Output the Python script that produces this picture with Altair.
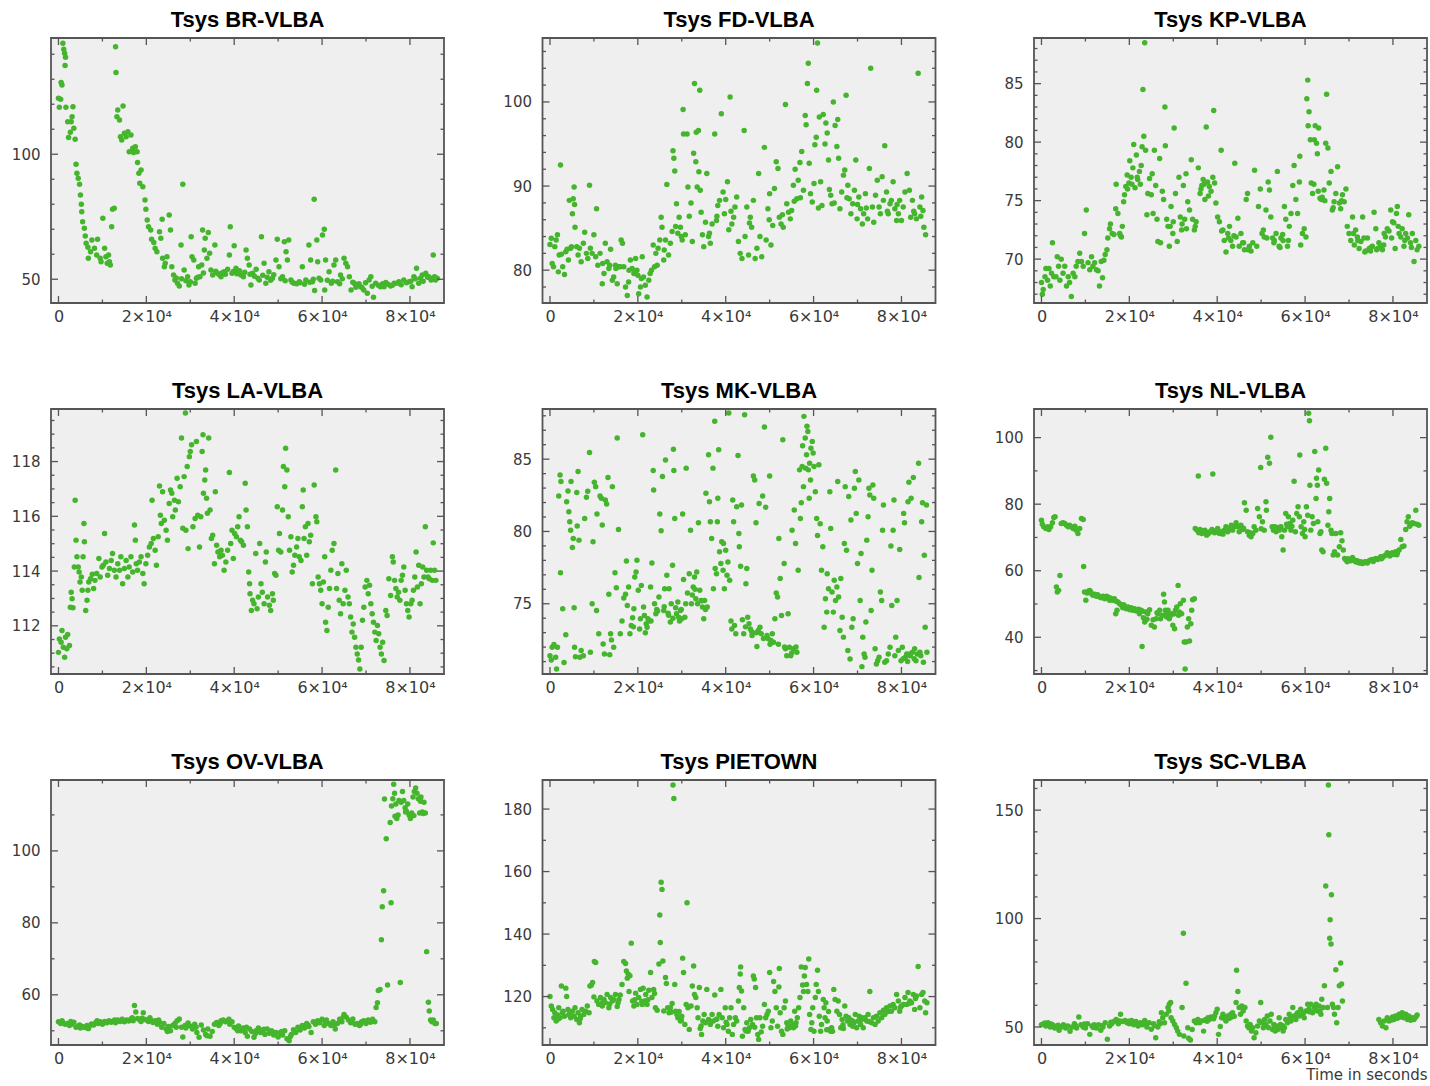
import altair as alt
import pandas as pd

# Tsys per antenna: (time in kiloseconds, system temperature in K)
BR = [
    (0.0,122.4),(0.2,118.8),(0.5,122.0),(0.6,128.7),(0.8,127.7),(1.0,144.4),(1.2,142.0),(1.4,140.4),(1.6,138.8),(1.5,135.5),
    (1.7,118.8),(2.1,113.0),(2.3,106.7),(2.7,108.8),(2.9,113.0),(3.1,115.0),(3.3,119.0),(3.5,110.4),(3.8,106.0),(4.0,96.0),
    (4.2,92.4),(4.5,90.4),(4.8,88.0),(5.0,83.7),(5.2,80.0),(5.3,77.0),(5.5,73.0),(5.9,70.4),(6.1,67.3),(6.3,64.4),
    (6.7,62.8),(6.8,58.4),(7.3,61.0),(7.6,65.7),(8.2,62.4),(8.7,59.7),(8.9,66.0),(9.5,58.4),(9.7,57.0),(10.1,74.4),
    (10.5,62.4),(10.8,59.0),(11.1,56.4),(11.4,59.7),(11.6,57.0),(11.8,55.7),(12.1,71.0),(12.3,78.0),(12.7,78.4),(13.0,143.0),
    (13.1,132.7),(13.5,117.7),(13.3,115.0),(13.9,113.7),(14.1,107.0),(14.4,105.7),(14.7,119.3),(15.0,108.4),(15.4,107.0),(15.8,109.0),
    (16.1,101.0),(16.5,107.7),(16.9,102.4),(17.1,100.7),(17.5,103.0),(17.9,101.0),(18.0,96.7),(18.3,92.4),(18.5,88.4),(18.8,93.7),
    (19.2,87.0),(19.7,81.7),(19.9,78.0),(20.2,73.7),(20.5,71.0),(21.0,69.7),(21.2,66.0),(21.7,64.7),(22.0,62.4),(22.4,61.0),
    (23.0,69.0),(23.3,66.4),(23.6,74.0),(23.7,58.4),(24.1,55.0),(24.3,56.4),(24.7,59.0),(25.2,75.7),(25.5,69.7),(25.8,55.0),
    (26.2,51.7),(26.5,49.7),(27.1,48.4),(27.5,47.3),(27.9,63.7),(28.3,88.0),(28.6,53.7),(29.0,49.4),(29.4,51.0),(29.7,47.7),
    (30.2,67.0),(30.4,59.0),(30.8,57.7),(31.1,48.4),(31.4,50.4),(31.9,55.0),(32.2,51.0),(32.6,55.7),(32.8,69.7),(33.2,61.7),
    (33.4,66.4),(33.8,58.4),(34.1,68.7),(34.4,60.4),(34.7,53.7),(35.1,51.7),(35.6,63.7),(36.2,52.4),(37.0,51.0),(37.7,53.0),
    (38.5,54.0),(38.9,59.7),(39.1,71.0),(39.5,52.4),(40.0,63.4),(40.4,54.4),(40.9,53.0),(41.5,51.7),(42.1,51.0),(42.7,61.7),
    (43.0,58.4),(43.4,55.7),(43.8,47.7),(44.2,52.4),(45.0,54.0),(45.7,49.7),(46.2,67.0),(46.8,56.4),(47.2,48.4),(47.9,53.0),
    (48.7,50.4),(49.5,57.7),(49.8,66.0),(50.2,55.0),(51.0,51.0),(51.4,65.0),(51.8,61.0),(52.1,57.7),(52.4,65.7),(52.9,49.7),
    (53.6,48.4),(54.8,49.0),(55.5,55.0),(56.3,49.7),(57.0,63.7),(57.4,57.7),(57.8,49.0),(58.2,82.0),(58.3,45.5),(58.8,65.7),
    (59.0,57.0),(59.3,50.4),(59.7,49.7),(60.1,67.7),(60.5,70.0),(60.8,57.7),(60.6,45.7),(61.6,53.0),(62.1,48.4),(62.7,55.7),
    (63.1,57.7),(63.5,49.0),(64.2,51.7),(65.0,58.4),(65.4,56.4),(65.8,55.0),(66.2,51.0),(66.6,45.7),(67.3,48.4),(68.0,47.7),
    (68.8,47.0),(69.5,45.7),(70.3,44.4),(70.7,49.7),(71.1,51.0),(71.7,42.8),(72.2,48.4),(73.3,47.0),(74.5,48.7),(75.6,47.3),
    (76.4,48.4),(77.5,49.0),(78.6,49.7),(79.8,49.0),(80.5,47.0),(80.9,51.0),(81.5,54.4),(82.0,48.4),(82.8,51.7),(83.6,52.4),
    (84.3,51.0),(84.8,49.7),(85.3,59.7),(85.8,49.7),(86.2,50.4),
    (26.8,50.5),(28.0,50.2),(30.0,49.0),(31.7,50.8),(33.0,52.5),(35.8,53.2),(36.6,51.8),(37.3,52.6),(38.0,52.0),(39.8,53.1),
    (40.6,52.2),(41.2,53.4),(42.4,52.8),(43.6,52.0),(44.6,51.2),(45.4,50.4),(46.5,51.6),(47.5,50.8),(48.3,49.6),(49.0,51.8),
    (50.6,50.2),(51.6,49.4),(53.2,48.8),(54.2,48.2),(55.0,48.6),(56.0,48.0),(57.2,48.8),(58.0,50.0),(61.2,49.6),(62.4,49.2),
    (64.0,48.2),(64.6,50.2),(67.0,48.8),(67.7,46.8),(68.4,48.2),(69.1,46.6),(69.9,48.6),(71.4,47.2),(72.8,47.6),(73.8,48.2),
    (74.1,47.0),(75.0,48.0),(76.0,47.6),(77.0,48.4),(78.0,47.8),(79.2,48.6),(80.2,49.2),(81.2,50.2),(82.4,50.4),(83.0,49.2),
    (84.0,50.8),(85.0,50.2),(85.6,51.0),
]

FD = [
    (0.0,83.05),(0.3,83.8),(0.5,80.8),(0.8,80.4),(1.1,82.8),(1.4,83.6),(1.7,84.2),(1.9,79.8),(2.1,81.8),(2.4,92.5),
    (2.6,81.9),(2.9,80.4),(3.3,79.5),(3.6,82.2),(3.9,82.5),(4.2,81.2),(4.4,88.3),(4.7,82.6),(4.9,82.8),(5.1,86.7),
    (5.3,88.5),(5.5,89.9),(5.6,87.8),(5.7,85.1),(6.1,82.8),(6.4,81.8),(6.7,82.6),(7.1,81.0),(7.6,83.2),(7.9,84.5),
    (8.3,82.0),(8.6,81.4),(9.0,90.1),(9.2,82.6),(9.6,82.0),(10.0,84.2),(10.4,81.6),(10.6,87.3),(10.9,80.6),(11.4,82.0),
    (11.9,78.4),(12.3,79.6),(12.6,83.2),(13.0,81.0),(13.4,80.2),(13.8,82.5),(14.2,78.8),(14.5,79.2),(14.9,80.6),(15.3,78.4),
    (15.7,80.4),(16.2,83.6),(16.5,83.2),(16.8,80.4),(17.2,78.0),(17.6,77.0),(17.9,78.6),(18.3,81.2),(18.7,80.2),(19.1,79.6),
    (19.5,81.4),(19.8,80.0),(20.2,77.2),(20.6,78.0),(21.0,81.6),(21.3,79.2),(21.7,78.2),(22.1,76.8),(22.5,78.8),(23.1,80.0),
    (23.5,83.0),(23.8,80.4),(24.1,82.0),(24.6,82.6),(25.0,83.6),(25.3,86.3),(25.5,85.1),(25.9,81.2),(26.3,83.6),(26.6,90.2),
    (27.0,81.8),(27.4,83.2),(27.8,84.6),(28.0,94.2),(28.2,93.3),(28.4,91.8),(28.8,87.9),(29.1,84.4),(29.4,86.3),(29.7,85.1),
    (30.1,83.6),(30.3,99.1),(30.4,96.2),(30.8,84.2),(31.2,96.2),(31.4,89.9),(31.7,86.4),(32.1,88.0),(32.4,83.4),(32.7,93.9),
    (32.9,102.2),(33.2,92.9),(33.3,96.4),(33.5,89.9),(33.8,96.6),(33.9,91.7),(34.1,101.4),(34.2,89.5),(34.4,86.9),(34.7,84.2),
    (35.0,82.8),(35.4,85.7),(35.7,91.5),(36.1,84.0),(36.5,83.2),(36.9,85.5),(37.5,96.2),(37.9,85.9),(38.2,87.7),(38.6,88.3),
    (39.0,98.6),(39.4,89.3),(39.7,86.7),(40.0,88.4),(40.4,90.5),(40.7,84.8),(41.0,100.6),(41.4,85.5),(41.8,86.3),(42.1,87.5),
    (42.5,88.7),(42.9,83.4),(43.3,82.0),(43.7,81.4),(44.2,96.6),(44.4,84.0),(44.8,87.5),(45.2,81.8),(45.6,86.3),(45.9,85.1),
    (46.3,88.3),(46.7,81.4),(47.1,82.6),(47.5,91.5),(47.8,84.0),(48.2,81.6),(48.8,94.6),(49.2,83.6),(49.6,87.3),(50.0,89.1),
    (50.3,83.0),(50.7,85.3),(51.1,89.7),(51.5,92.9),(51.9,92.1),(52.2,86.3),(52.6,85.5),(53.1,85.1),(53.6,99.7),(53.9,87.9),
    (54.3,86.9),(54.7,86.1),(55.0,87.1),(55.4,90.1),(55.8,92.0),(56.2,88.5),(56.5,90.7),(56.9,92.8),(57.3,94.1),(57.7,89.5),
    (58.1,98.4),(58.3,97.3),(58.6,102.2),(58.8,104.6),(59.0,92.7),(59.3,89.1),(59.7,88.1),(60.1,90.3),(60.3,94.9),(60.6,95.8),
    (60.7,101.4),(60.9,107.0),(61.3,98.2),(61.6,90.5),(61.9,87.7),(62.2,98.5),(62.6,95.0),(62.8,97.5),(63.1,96.3),(63.4,93.1),
    (63.6,89.6),(63.9,88.9),(64.2,87.9),(64.5,100.0),(64.9,97.2),(65.3,94.7),(65.5,97.9),(65.7,93.3),(66.0,87.3),(66.4,89.3),
    (66.8,91.3),(67.1,91.9),(67.4,100.8),(67.8,90.1),(68.1,88.5),(68.5,86.7),(68.9,87.9),(69.3,89.5),(69.6,93.1),(69.9,86.1),
    (70.3,88.7),(70.7,87.3),(71.1,85.5),(71.4,86.7),(71.8,89.1),(72.3,86.1),(72.7,92.1),(73.0,104.0),(73.4,87.5),(73.7,85.7),
    (74.1,88.9),(74.5,90.7),(74.9,87.5),(75.2,86.7),(75.6,91.1),(75.9,88.3),(76.2,94.8),(76.6,89.3),(77.0,86.7),(77.4,87.9),
    (77.7,88.3),(78.1,90.5),(78.5,87.3),(78.9,85.9),(79.3,86.7),(79.6,88.3),(80.0,85.9),(80.4,87.5),(80.8,89.3),(81.3,91.5),
    (81.8,89.5),(82.1,86.3),(82.5,88.3),(83.0,86.7),(83.4,86.1),(83.8,103.4),(84.2,87.5),(84.6,88.7),(84.9,87.1),(85.1,85.1),
    (85.5,84.2),
    (12.0,80.8),(13.6,80.6),(15.0,80.2),(16.0,80.4),(18.0,80.0),(19.3,79.8),(20.0,79.4),(20.8,79.0),(22.8,79.6),(24.4,80.6),
    (26.0,82.4),(28.6,85.2),(29.9,84.0),(36.3,84.4),(38.0,86.4),(41.2,87.0),(45.4,85.6),(49.9,86.0),(52.9,86.6),(55.6,88.2),
    (57.0,88.6),(61.1,87.4),(64.7,88.0),(67.6,88.6),(70.0,87.8),(72.0,87.4),(76.8,87.0),(79.0,87.8),(82.8,87.0),(84.4,86.4),
]

KP = [
    (0.0,68.0),(0.2,67.0),(0.4,67.4),(0.8,68.5),(1.0,69.2),(1.4,68.2),(1.7,69.2),(2.0,67.7),(2.3,68.8),(2.5,71.4),
    (2.8,68.5),(3.3,68.5),(3.6,70.2),(3.9,69.4),(4.2,68.2),(4.5,70.0),(4.9,68.8),(5.3,69.4),(5.7,67.7),(6.1,68.5),
    (6.4,68.0),(6.8,66.8),(7.2,68.8),(7.6,68.5),(7.9,69.4),(8.3,69.8),(8.7,70.5),(9.1,69.8),(9.5,69.4),(9.8,72.2),
    (10.2,74.2),(10.6,69.7),(11.0,69.1),(11.4,70.2),(11.7,69.4),(12.1,69.7),(12.5,69.1),(12.9,69.0),(13.2,67.7),(13.6,69.8),
    (13.9,68.4),(14.2,69.9),(14.5,70.4),(14.9,70.8),(15.1,71.8),(15.5,72.6),(15.7,73.0),(16.1,72.2),(16.5,72.1),(16.9,74.3),
    (17.0,76.4),(17.4,73.9),(17.8,72.2),(18.2,71.9),(18.4,72.8),(18.7,74.9),(18.9,75.5),(19.2,76.2),(19.5,77.2),(19.9,76.5),
    (20.1,78.4),(20.4,77.0),(20.8,77.8),(21.0,79.8),(21.3,76.1),(21.6,78.9),(21.9,76.8),(22.3,77.5),(22.7,78.0),(22.9,79.6),
    (23.1,84.5),(23.3,80.5),(23.5,88.5),(23.7,79.3),(24.0,73.8),(24.2,75.6),(24.6,76.9),(25.0,75.5),(25.2,77.3),(25.4,73.9),
    (25.7,79.3),(26.0,76.3),(26.3,73.4),(26.5,71.5),(26.9,78.6),(27.1,71.4),(27.5,75.8),(27.8,75.1),(28.1,83.0),(28.2,79.7),
    (28.5,73.4),(28.8,72.8),(29.1,71.1),(29.5,74.5),(29.9,72.2),(30.2,81.2),(30.5,75.6),(30.9,71.5),(31.3,77.0),(31.6,73.6),
    (31.9,72.5),(32.3,76.3),(32.6,73.4),(32.9,77.3),(33.3,74.9),(33.7,74.2),(34.1,78.5),(34.4,73.4),(34.8,72.5),(35.2,73.2),
    (35.7,77.8),(36.1,75.6),(36.5,76.3),(36.8,76.8),(37.2,75.1),(37.5,81.3),(37.8,76.6),(38.2,76.2),(38.6,75.8),(39.0,77.0),
    (39.2,82.7),(39.4,76.5),(39.7,74.8),(40.1,73.6),(40.5,73.2),(40.9,79.3),(41.3,72.5),(41.6,71.6),(42.0,70.6),(42.4,72.2),
    (42.8,72.8),(43.1,71.6),(43.5,71.1),(44.0,78.2),(44.3,71.9),(44.7,73.5),(45.0,71.1),(45.4,72.2),(45.8,71.4),(46.2,70.8),
    (46.6,75.1),(46.9,75.6),(47.3,71.1),(47.7,70.7),(48.1,71.4),(48.5,77.6),(49.0,71.1),(49.4,74.5),(49.8,76.0),(50.2,72.2),
    (50.5,72.5),(50.7,71.9),(51.1,74.2),(51.6,76.6),(51.9,75.9),(52.2,73.6),(52.6,71.8),(53.0,71.6),(53.4,72.2),(53.7,77.5),
    (54.1,71.1),(54.5,71.8),(54.9,72.1),(55.3,74.5),(55.6,73.4),(56.0,71.1),(56.4,72.8),(56.8,73.9),(57.2,76.3),(57.5,78.0),
    (57.9,75.1),(58.3,73.9),(58.7,76.6),(58.8,78.8),(59.0,71.2),(59.4,72.2),(59.8,72.6),(60.2,71.9),(60.4,83.7),(60.6,85.3),
    (60.7,81.4),(60.9,82.6),(61.2,80.2),(61.4,76.5),(61.7,75.6),(62.1,80.2),(62.3,81.4),(62.6,79.9),(62.8,79.0),(63.1,81.2),
    (63.4,75.2),(63.7,75.1),(63.9,75.3),(64.3,75.9),(64.7,79.9),(64.9,84.1),(65.2,79.5),(65.5,76.5),(65.9,77.5),(66.2,74.2),
    (66.6,74.9),(67.0,75.6),(67.4,77.9),(67.8,74.8),(68.1,74.3),(68.5,75.5),(68.9,74.9),(69.3,76.0),(69.6,72.8),(70.0,72.2),
    (70.4,71.6),(70.8,73.6),(71.2,71.2),(71.5,72.5),(71.9,71.9),(72.3,70.9),(72.7,71.5),(73.1,73.6),(73.4,71.8),(73.8,70.7),
    (74.2,71.8),(74.6,70.9),(74.9,70.7),(75.3,71.1),(75.7,74.0),(76.1,72.6),(76.5,70.9),(76.8,71.4),(77.2,71.1),(77.6,70.8),
    (78.0,72.2),(78.3,71.9),(78.7,72.6),(79.1,72.4),(79.5,74.2),(79.9,73.2),(80.2,73.1),(80.5,70.9),(80.8,73.9),(81.0,74.5),
    (81.4,72.2),(81.8,71.9),(82.1,72.6),(82.5,71.1),(82.9,72.2),(83.3,71.8),(83.6,73.8),(84.0,71.4),(84.4,72.2),(84.8,69.8),
    (85.2,71.6),(85.5,70.8),(85.9,71.1),
    (18.0,72.0),(19.6,76.0),(20.6,76.4),(21.8,77.0),(22.5,76.4),(29.3,72.8),(30.0,73.2),(32.0,73.0),(33.0,72.6),(35.0,72.8),
    (36.3,76.0),(37.0,76.4),(38.0,75.4),(41.0,72.4),(42.6,71.8),(43.8,72.0),(46.0,71.4),(47.0,70.8),(51.3,71.8),(52.9,71.4),
    (54.3,71.0),(55.0,71.6),(56.2,71.6),(62.0,76.4),(63.0,75.8),(64.5,75.0),(66.4,74.4),(68.3,75.0),(71.0,72.2),(72.0,71.6),
    (73.6,70.6),(75.0,71.0),(76.3,70.8),(77.9,71.2),(79.7,71.8),(81.2,72.8),(82.7,71.6),(84.2,71.0),
]

LA = [
    (0.0,111.03),(0.2,111.52),(0.6,111.4),(0.8,111.83),(1.1,111.22),(1.4,110.85),(1.6,111.58),(1.9,111.16),(2.1,111.68),(2.5,111.28),
    (2.7,112.68),(2.9,113.23),(3.1,112.99),(3.3,112.66),(3.6,114.15),(3.8,116.59),(4.0,115.13),(4.2,114.52),(4.5,114.15),(4.7,113.97),
    (4.9,113.6),(5.2,113.78),(5.4,113.3),(5.6,114.52),(5.8,115.74),(5.9,115.07),(6.2,112.56),(6.5,112.93),(6.7,113.3),(6.9,113.6),
    (7.3,113.72),(7.7,113.88),(8.0,113.36),(8.3,113.66),(8.7,113.91),(9.2,114.46),(9.5,113.78),(9.9,114.15),(10.2,114.21),(10.5,115.37),
    (10.8,114.33),(11.2,113.85),(11.6,114.09),(12.0,114.39),(12.3,114.64),(12.7,114.03),(13.1,113.78),(13.5,114.27),(13.9,114.03),(14.2,114.52),
    (14.6,113.54),(15.0,114.09),(15.4,114.39),(15.8,113.78),(16.1,114.15),(16.5,114.52),(16.9,113.97),(17.3,115.68),(17.5,115.13),(17.7,114.27),
    (18.0,114.03),(18.4,114.33),(18.8,114.52),(19.2,113.91),(19.5,113.54),(19.9,114.27),(20.3,114.58),(20.7,114.88),(21.1,115.01),(21.3,116.59),
    (21.6,115.19),(22.0,114.76),(22.3,114.21),(22.7,115.25),(23.0,117.11),(23.2,116.04),(23.4,115.74),(23.7,116.9),(24.1,115.86),(24.5,115.49),
    (24.8,115.13),(25.2,116.47),(25.5,116.96),(25.8,116.84),(26.0,115.98),(26.4,116.59),(26.6,116.23),(27.0,117.39),(27.3,116.53),(27.7,117.08),
    (28.0,118.86),(28.3,115.56),(28.6,117.45),(28.9,119.77),(29.0,115.49),(29.3,117.82),(29.5,114.82),(29.8,118.18),(30.0,118.37),(30.3,118.61),
    (30.6,115.62),(31.1,115.92),(31.4,118.73),(31.7,116.04),(32.1,114.88),(32.4,115.98),(32.7,118.37),(32.9,118.98),(33.0,116.84),(33.3,117.33),
    (33.5,117.69),(33.7,116.66),(33.9,116.11),(34.2,118.86),(34.5,116.23),(34.8,115.19),(35.1,115.31),(35.5,114.27),(35.7,116.9),(36.0,114.94),
    (36.3,114.7),(36.7,114.52),(37.0,114.76),(37.3,114.58),(37.7,114.03),(38.1,114.33),(38.5,114.76),(38.9,117.6),(39.2,115.01),(39.5,115.49),
    (39.8,114.46),(40.1,115.37),(40.5,115.25),(40.8,115.62),(41.1,115.98),(41.4,115.13),(41.7,115.07),(42.1,114.94),(42.5,117.21),(42.7,116.23),
    (43.0,115.62),(43.3,113.97),(43.5,113.54),(43.6,113.17),(43.9,112.56),(44.2,112.93),(44.5,112.81),(44.9,114.64),(45.2,112.62),(45.5,113.05),
    (45.8,115.01),(46.1,113.54),(46.4,113.23),(46.8,112.81),(47.1,114.33),(47.3,114.7),(47.6,113.05),(48.0,112.75),(48.3,112.56),(48.7,113.17),
    (48.9,112.93),(49.2,113.91),(49.5,113.85),(49.8,116.35),(50.1,114.76),(50.3,115.37),(50.6,114.7),(51.0,116.23),(51.2,117.82),(51.5,117.08),
    (51.7,118.49),(52.0,117.69),(52.3,115.98),(52.6,114.76),(52.9,115.25),(53.2,113.97),(53.5,114.21),(53.8,114.58),(54.2,114.88),(54.5,115.19),
    (54.8,114.52),(55.2,114.39),(55.5,116.35),(55.7,116.96),(55.9,115.19),(56.2,115.62),(56.5,114.58),(56.8,115.74),(57.1,115.07),(57.4,115.31),
    (57.8,113.54),(58.2,117.14),(58.6,115.98),(58.8,115.8),(59.1,113.78),(59.4,113.54),(59.7,113.3),(60.0,112.81),(60.3,113.6),(60.6,114.52),
    (60.8,112.13),(61.1,111.83),(61.4,112.68),(61.7,113.36),(62.0,114.03),(62.3,114.76),(62.7,115.01),(63.1,117.69),(63.3,113.36),(63.6,113.91),
    (63.9,112.93),(64.2,112.44),(64.5,114.27),(64.8,112.81),(65.2,113.3),(65.5,114.03),(65.9,113.05),(66.2,112.81),(66.5,112.32),(66.8,111.77),
    (67.1,112.07),(67.4,111.58),(67.7,111.22),(68.0,110.97),(68.3,110.75),(68.6,110.42),(68.9,111.22),(69.2,112.2),(69.5,112.68),(69.8,113.42),
    (70.2,113.66),(70.5,113.17),(70.8,113.48),(71.1,112.81),(71.4,112.44),(71.7,112.13),(72.0,111.77),(72.3,111.46),(72.6,112.01),(72.9,111.71),
    (73.2,111.22),(73.5,110.97),(73.8,111.4),(74.1,110.73),(74.5,112.56),(74.8,112.38),(75.2,113.72),(75.6,113.11),(76.0,114.52),(76.2,114.33),
    (76.5,113.66),(76.8,113.36),(77.1,113.05),(77.4,113.23),(77.7,112.93),(78.0,113.66),(78.3,113.85),(78.6,114.15),(78.9,113.3),(79.2,112.81),
    (79.5,112.56),(79.8,112.32),(80.2,112.81),(80.5,112.93),(80.8,113.3),(81.1,113.78),(81.4,114.7),(81.7,113.42),(82.0,114.21),(82.3,112.81),
    (82.6,113.54),(82.9,114.15),(83.2,113.78),(83.5,115.62),(83.8,114.03),(84.1,113.78),(84.4,113.72),(84.7,114.03),(85.1,113.66),(85.3,115.03),
    (85.6,114.03),(85.9,113.66),
]

MK = [
    (0.0,71.41),(0.3,71.11),(0.5,71.99),(0.9,72.18),(1.3,71.3),(1.5,70.49),(1.7,71.99),(2.0,82.45),(2.3,83.91),(2.5,83.45),
    (2.4,77.15),(2.9,74.65),(3.2,70.93),(3.6,72.85),(3.8,82.06),(4.1,82.8),(4.3,81.37),(4.5,80.67),(4.7,80.09),(4.8,83.45),
    (5.1,78.89),(5.3,79.51),(5.5,74.72),(5.6,71.99),(5.8,71.34),(6.1,82.69),(6.2,80.37),(6.4,84.14),(6.6,79.4),(6.8,71.3),
    (7.1,71.76),(7.6,71.41),(7.9,80.9),(8.3,82.36),(8.6,82.78),(9.0,85.46),(9.2,71.64),(9.6,75.0),(9.8,79.28),(10.1,83.4),
    (10.4,83.1),(10.6,74.54),(10.7,81.2),(11.1,72.92),(11.4,82.45),(11.7,82.29),(11.9,80.44),(12.1,72.22),(12.4,71.53),(12.6,82.18),
    (12.9,81.9),(13.2,83.73),(13.4,75.65),(13.6,71.48),(13.8,72.92),(14.0,72.5),(14.2,83.1),(14.5,71.99),(14.8,77.15),(15.1,76.11),
    (15.3,86.46),(15.6,80.14),(16.0,72.92),(16.4,73.8),(16.8,75.39),(17.2,75.65),(17.4,77.96),(17.6,74.88),(17.9,76.16),(18.2,72.92),
    (18.5,73.5),(18.8,74.03),(19.1,74.65),(19.3,76.85),(19.6,77.2),(19.8,78.01),(20.1,75.93),(20.4,73.26),(20.6,73.96),(20.8,76.27),
    (21.1,86.69),(21.3,74.77),(21.5,74.19),(21.9,73.61),(22.1,73.38),(22.3,73.96),(22.5,73.8),(22.9,76.16),(23.2,77.82),(23.5,84.21),
    (23.6,82.87),(23.8,75.0),(24.1,74.31),(24.5,74.49),(24.8,75.46),(25.0,81.2),(25.3,80.05),(25.6,83.8),(25.9,74.54),(26.1,76.04),
    (26.3,84.95),(26.6,76.97),(26.9,74.35),(27.1,76.04),(27.4,73.73),(27.6,75.0),(27.9,77.66),(28.1,85.69),(28.2,84.21),(28.4,80.9),
    (28.6,74.72),(28.8,74.31),(29.1,75.12),(29.3,74.07),(29.5,73.8),(29.7,74.54),(30.0,73.96),(30.2,81.2),(30.4,76.67),(30.7,74.07),
    (31.0,84.38),(31.3,75.74),(31.7,77.08),(32.0,80.09),(32.2,75.0),(32.6,76.16),(32.9,76.85),(33.2,75.35),(33.4,77.2),(33.6,75.0),
    (33.8,80.6),(34.1,75.93),(34.4,75.23),(34.7,74.77),(35.0,73.96),(35.2,75.23),(35.5,82.64),(35.8,74.77),(36.1,85.3),(36.3,82.06),
    (36.5,80.67),(36.8,79.51),(37.1,84.38),(37.2,76.04),(37.5,87.62),(37.6,77.43),(37.9,77.08),(38.1,80.67),(38.2,82.29),(38.4,85.65),
    (38.6,78.59),(38.9,77.78),(39.1,79.28),(39.4,77.31),(39.5,79.17),(39.7,76.04),(40.0,78.7),(40.3,76.97),(40.5,77.89),(40.7,88.19),
    (40.9,76.62),(41.2,73.8),(41.4,73.26),(41.6,82.18),(41.8,80.67),(42.0,73.5),(42.3,72.92),(42.5,81.71),(42.8,85.25),(43.0,79.86),
    (43.1,78.94),(43.4,77.59),(43.6,81.83),(43.8,73.89),(44.1,72.92),(44.3,88.08),(44.6,76.39),(44.8,77.43),(45.0,74.07),(45.3,73.61),
    (45.6,73.26),(45.9,73.08),(46.3,83.84),(46.6,83.56),(46.9,80.6),(47.1,72.04),(47.4,73.15),(47.6,81.94),(47.8,73.38),(48.1,72.92),
    (48.4,82.45),(48.8,87.22),(49.1,81.67),(49.4,72.8),(49.7,72.57),(50.0,83.84),(50.3,72.45),(50.6,72.92),(50.9,72.34),(51.2,73.96),
    (51.5,75.74),(51.8,75.46),(52.1,79.51),(52.4,76.74),(52.7,74.19),(53.0,86.34),(53.3,77.78),(53.6,71.88),(53.9,71.41),(54.2,74.31),
    (54.5,71.99),(54.8,71.41),(55.1,80.09),(55.4,71.88),(55.6,81.48),(55.9,79.17),(56.2,71.64),(56.5,77.31),(56.8,84.26),(57.0,80.9),
    (57.2,81.99),(57.4,84.49),(57.5,85.93),(57.7,83.1),(57.8,87.96),(58.1,86.46),(58.2,84.38),(58.4,85.3),(58.5,87.27),(58.7,86.92),
    (58.8,84.26),(59.0,82.29),(59.1,84.72),(59.3,83.56),(59.4,85.76),(59.7,86.23),(59.9,85.42),(60.1,84.49),(60.4,82.75),(60.7,80.9),
    (60.9,79.72),(61.2,84.61),(61.5,80.53),(61.8,77.31),(62.1,78.94),(62.4,73.38),(62.7,75.35),(63.0,74.42),(63.1,77.08),(63.4,76.04),
    (63.7,82.75),(63.9,80.21),(64.2,75.81),(64.5,74.42),(64.7,76.62),(65.0,75.23),(65.3,76.16),(65.5,83.45),(65.7,75.46),(66.0,73.15),
    (66.2,76.74),(66.5,74.07),(66.8,72.69),(67.0,79.17),(67.2,83.1),(67.5,78.7),(67.8,71.76),(68.0,82.41),(68.3,71.18),(68.5,80.79),
    (68.7,73.38),(69.0,73.96),(69.3,82.99),(69.5,84.14),(69.7,81.25),(70.0,77.78),(70.3,83.56),(70.6,75.23),(70.8,78.47),(71.0,70.65),
    (71.2,72.69),(71.5,71.53),(71.7,71.3),(71.9,73.73),(72.1,79.4),(72.4,81.02),(72.6,82.99),(72.8,82.52),(73.1,74.54),(73.3,77.31),
    (73.5,83.22),(73.7,82.29),(74.0,71.88),(74.3,70.83),(74.6,71.06),(74.9,71.3),(75.2,75.81),(75.5,75.23),(75.7,80.09),(75.9,81.83),
    (76.2,70.95),(76.6,71.06),(77.0,71.53),(77.4,71.99),(77.6,79.0),(77.8,74.88),(78.1,80.09),(78.3,82.18),(78.5,71.41),(78.7,72.69),
    (79.0,75.23),(79.3,71.76),(79.6,78.75),(79.9,71.06),(80.2,71.99),(80.5,81.25),(80.7,80.6),(80.9,71.3),(81.2,71.53),(81.5,82.06),
    (81.7,83.4),(81.9,71.53),(82.2,82.29),(82.5,71.64),(82.7,83.73),(83.0,71.88),(83.3,71.06),(83.6,71.53),(83.9,84.72),(84.0,76.81),
    (84.2,71.64),(84.6,80.67),(84.8,81.99),(85.0,70.95),(85.2,78.36),(85.4,73.38),(85.7,81.83),(85.8,71.64),
    (19.0,73.4),(21.7,73.0),(23.0,73.8),(24.3,74.6),(26.0,74.8),(27.0,74.2),(28.0,74.0),(29.9,74.6),(30.9,75.0),(32.4,75.6),
    (33.0,76.0),(34.6,75.2),(35.4,74.6),(44.5,73.4),(46.0,72.8),(47.0,73.0),(48.6,72.6),(50.1,72.2),(52.0,72.2),(53.4,72.0),
    (55.0,71.6),(56.0,72.0),(80.4,71.2),(81.4,71.0),(82.0,71.4),(82.9,71.2),(84.4,71.4),
]

NL = [
    (0.0,75.2),(0.2,74.0),(0.5,73.2),(1.0,72.7),(1.4,73.2),(1.7,72.4),(2.1,73.2),(2.5,74.4),(2.8,76.0),(3.1,76.2),
    (3.4,55.1),(3.6,53.6),(3.9,54.1),(4.2,58.6),(4.5,74.2),(4.9,74.4),(5.3,74.2),(5.7,73.7),(6.1,73.2),(6.4,73.7),
    (6.8,73.2),(7.2,72.7),(7.6,73.4),(7.9,72.2),(8.3,71.2),(8.7,72.7),(9.1,75.7),(9.5,75.4),(9.6,61.3),(9.8,53.6),
    (10.1,51.1),(10.4,53.3),(10.7,53.9),(11.0,54.1),(11.4,53.1),(11.7,52.6),(12.1,52.9),(12.5,52.3),(12.9,52.6),(13.2,52.1),
    (13.6,51.9),(14.0,52.3),(14.4,51.6),(14.8,52.3),(15.1,52.1),(15.5,51.1),(15.9,51.3),(16.3,51.1),(16.6,51.6),(16.9,47.1),
    (17.2,48.1),(17.4,50.6),(17.8,50.1),(18.2,49.6),(18.5,48.9),(18.9,49.3),(19.3,48.6),(19.7,49.1),(20.1,48.3),(20.4,48.9),
    (20.8,48.1),(21.2,48.6),(21.6,47.9),(21.9,48.3),(22.3,47.1),(22.7,48.1),(22.9,37.2),(23.2,45.9),(23.5,44.6),(23.8,47.6),
    (24.2,47.1),(24.6,48.3),(25.0,43.6),(25.4,45.3),(25.7,43.1),(26.1,45.6),(26.5,47.1),(26.9,48.1),(27.1,45.6),(27.5,46.6),
    (27.8,52.9),(28.0,50.6),(28.2,48.1),(28.5,46.1),(28.8,48.1),(29.1,45.6),(29.5,47.1),(29.9,43.6),(30.3,42.6),(30.5,48.1),
    (30.8,49.1),(31.1,55.6),(31.4,47.6),(31.6,50.1),(31.9,47.1),(32.3,51.1),(32.5,38.6),(32.7,30.5),(32.9,38.6),(33.2,43.1),
    (33.5,45.6),(33.7,38.9),(34.0,44.1),(34.2,48.1),(34.4,51.3),(34.8,51.6),(35.0,72.7),(35.4,72.2),(35.7,88.5),(35.8,71.4),
    (36.1,72.4),(36.5,71.2),(36.9,71.7),(37.2,72.2),(37.6,70.7),(38.0,71.2),(38.4,71.7),(38.8,72.4),(39.0,89.1),(39.4,71.4),
    (39.7,72.0),(40.1,72.7),(40.5,71.2),(40.9,71.7),(41.3,71.0),(41.6,72.2),(42.0,73.2),(42.4,71.7),(42.8,72.4),(43.2,73.7),
    (43.5,72.2),(43.9,73.2),(44.3,74.4),(44.7,73.2),(45.0,71.7),(45.4,73.7),(45.8,72.4),(46.2,80.4),(46.6,78.2),(46.9,71.7),
    (47.3,70.7),(47.7,70.2),(48.1,71.2),(48.4,73.2),(48.8,72.2),(49.2,78.7),(49.6,76.2),(49.9,91.0),(50.3,74.7),(50.7,72.2),
    (51.1,80.7),(51.2,78.2),(51.5,94.1),(51.9,92.3),(52.2,100.1),(52.5,73.2),(52.8,72.2),(53.1,73.2),(53.4,71.7),(53.8,73.0),
    (54.1,72.2),(54.5,73.2),(54.7,70.2),(55.0,66.2),(55.3,72.2),(55.6,77.2),(56.0,73.2),(56.2,76.2),(56.5,74.2),(56.8,72.2),
    (57.2,75.2),(57.5,86.9),(57.8,71.7),(58.1,77.2),(58.4,79.2),(58.7,76.2),(58.8,94.8),(59.1,73.2),(59.4,71.2),(59.7,74.7),
    (60.0,70.2),(60.3,79.2),(60.6,76.7),(60.8,107.3),(61.0,105.1),(61.1,85.7),(61.3,72.2),(61.6,76.2),(61.9,74.2),(62.2,95.8),
    (62.5,81.7),(62.6,87.8),(62.8,85.7),(62.9,74.7),(63.1,90.3),(63.4,71.2),(63.6,71.7),(63.8,66.2),(64.1,65.7),(64.4,87.5),
    (64.7,96.8),(64.9,86.3),(65.2,73.7),(65.4,77.7),(65.6,81.7),(65.9,72.2),(66.1,71.2),(66.4,64.7),(66.7,65.7),(67.0,71.2),
    (67.4,64.7),(67.8,67.2),(68.1,71.4),(68.4,69.0),(68.7,66.2),(69.0,63.7),(69.3,63.2),(69.6,62.7),(70.0,63.2),(70.4,63.0),
    (70.8,64.0),(71.2,63.2),(71.5,62.7),(71.9,63.0),(72.3,62.3),(72.7,62.7),(73.0,62.2),(73.4,62.3),(73.8,62.7),(74.2,62.3),
    (74.6,63.0),(74.9,63.2),(75.3,63.4),(75.7,63.2),(76.1,63.7),(76.5,63.4),(76.8,63.7),(77.2,64.2),(77.6,64.0),(78.0,64.4),
    (78.4,64.7),(78.7,65.4),(79.1,65.0),(79.5,65.2),(79.9,65.4),(80.2,64.9),(80.6,65.7),(81.0,65.4),(81.4,66.2),(81.8,69.4),
    (82.1,67.2),(82.5,67.4),(82.9,72.4),(83.2,74.7),(83.5,76.2),(83.8,73.4),(84.1,74.0),(84.4,74.4),(84.8,74.2),(85.2,78.2),
    (85.5,74.0),(85.9,73.7),
    (11.2,53.6),(12.7,52.8),(14.2,52.0),(15.7,51.8),(17.0,50.8),(18.7,49.8),(20.6,48.6),(22.1,48.4),(23.0,47.8),(24.0,45.4),
    (26.3,47.4),(28.4,47.0),(29.3,46.4),(30.1,47.0),(31.2,46.6),(36.7,72.0),(38.2,71.6),(40.3,71.6),(42.2,72.6),(44.1,73.4),
    (46.0,72.8),(47.5,71.4),(50.0,72.6),(53.6,72.4),(55.8,74.0),(57.0,73.4),(59.9,72.4),(69.8,63.6),(71.7,62.6),(73.6,62.6),
    (75.5,62.8),(77.4,63.6),(79.3,64.4),(80.9,64.8),
]

OV = [
    (0.0,52.5),(0.5,52.0),(1.0,52.3),(1.5,51.8),(2.0,52.0),(2.5,51.5),(3.0,51.8),(3.5,52.4),(4.0,51.0),(4.5,51.3),
    (5.0,50.8),(5.5,51.2),(6.0,50.9),(6.5,51.5),(7.0,51.2),(7.5,51.9),(8.0,51.6),(8.5,52.3),(9.0,52.0),(9.5,52.5),
    (10.0,51.8),(10.5,52.6),(11.0,52.2),(11.5,52.8),(12.0,52.4),(12.5,52.7),(13.0,52.2),(13.5,53.0),(14.0,52.6),(14.5,53.2),
    (15.0,52.5),(15.5,53.0),(16.0,52.7),(16.5,53.3),(17.0,52.8),(17.3,57.0),(17.6,55.2),(18.0,53.4),(18.5,53.0),(19.0,53.5),
    (19.3,55.0),(19.5,53.2),(20.0,53.0),(20.5,52.6),(21.0,53.1),(21.5,52.3),(22.0,52.8),(22.5,51.8),(23.0,52.4),(23.5,51.0),
    (24.0,52.0),(24.5,50.5),(25.0,51.2),(25.5,50.0),(26.0,51.5),(26.5,52.0),(27.0,52.8),(27.5,53.3),(28.0,51.0),(28.3,48.3),
    (28.8,51.5),(29.5,52.2),(30.0,51.3),(30.5,50.5),(31.0,51.8),(31.5,49.5),(32.0,48.2),(32.5,51.6),(33.0,50.2),(33.5,49.0),
    (34.0,50.5),(34.5,48.5),(35.0,49.8),(35.5,51.8),(36.0,52.3),(36.5,51.5),(37.0,52.8),(37.5,53.0),(38.0,52.5),(38.5,52.8),
    (39.0,51.8),(39.5,52.5),(40.0,51.0),(40.5,50.5),(41.0,51.3),(41.5,50.0),(42.0,50.8),(42.5,49.5),(43.0,48.5),(43.5,50.5),
    (44.0,49.8),(44.5,48.2),(45.0,50.0),(45.5,50.8),(46.0,49.5),(46.5,50.2),(47.0,49.0),(47.5,50.5),(48.0,49.3),(48.5,50.0),
    (49.0,48.8),(49.5,49.5),(50.0,48.3),(50.5,49.5),(51.0,48.8),(51.5,50.0),(52.0,47.8),(52.5,47.2),(53.0,49.0),(53.5,50.3),
    (54.0,49.5),(54.5,51.0),(55.0,50.2),(55.5,51.5),(56.0,50.8),(56.5,52.0),(57.0,51.2),(57.5,49.5),(58.0,52.5),(58.5,51.8),
    (59.0,52.8),(59.5,52.2),(60.0,53.2),(60.5,51.5),(61.0,53.0),(61.5,52.0),(62.0,51.5),(62.5,52.5),(63.0,50.5),(63.5,52.0),
    (64.0,53.2),(64.5,52.5),(65.0,54.5),(65.5,53.8),(66.0,53.0),(66.5,52.2),(67.0,53.3),(67.5,51.8),(68.0,52.0),(68.5,51.5),
    (69.0,52.5),(69.5,52.8),(70.0,52.0),(70.5,53.0),(71.0,52.4),(71.5,53.2),(72.0,52.5),(72.3,56.5),(72.6,57.8),(72.8,61.2),
    (73.2,61.5),(73.5,75.3),(73.7,84.5),(74.0,88.9),(74.2,114.4),(74.6,103.4),(74.9,62.7),(75.5,107.9),(75.7,85.6),(75.8,112.5),
    (76.1,114.5),(76.3,118.5),(76.5,116.0),(76.8,113.0),(77.0,109.0),(77.3,110.0),(77.5,114.0),(77.8,63.4),(78.0,113.5),(78.3,116.5),
    (78.6,114.0),(78.9,112.0),(79.2,111.0),(79.5,113.0),(79.8,110.0),(80.1,109.0),(80.4,110.5),(80.7,115.0),(81.0,116.5),(81.3,117.5),
    (81.6,116.0),(81.9,114.5),(82.2,110.5),(82.5,115.0),(82.8,110.8),(83.2,113.5),(83.5,110.5),(83.8,72.0),(84.2,57.9),(84.4,55.5),
    (84.7,53.0),(85.0,52.5),(85.3,53.0),(85.7,52.0),(86.0,52.0),
    (0.8,52.8),(2.8,52.6),(4.8,51.6),(6.8,50.6),(8.8,52.8),(10.8,52.4),(12.8,53.0),(14.8,52.8),(16.8,53.6),(18.8,52.6),
    (20.8,53.6),(22.8,53.0),(24.8,49.8),(26.8,51.0),(29.0,50.8),(31.3,51.0),(33.8,48.6),(36.8,52.0),(38.8,53.2),(40.8,50.0),
    (42.8,51.0),(44.8,49.2),(46.8,50.4),(48.8,49.6),(50.8,49.8),(52.8,48.4),(54.8,50.6),(56.8,51.6),(58.8,52.2),(60.8,52.6),
    (62.8,51.6),(64.8,53.8),(66.8,52.6),(68.8,51.8),(70.8,52.8),(76.6,109.6),(79.0,110.8),(80.9,109.8),(82.4,113.8),(83.0,110.4),
]

PIE = [
    (0.0,120.0),(0.3,117.0),(0.6,115.9),(0.9,113.2),(1.1,114.8),(1.4,112.2),(1.7,114.1),(2.0,116.4),(2.3,113.2),(2.6,123.4),
    (2.8,114.8),(3.0,115.3),(3.3,113.7),(3.6,122.7),(3.8,120.0),(4.1,115.9),(4.3,114.3),(4.7,113.2),(5.1,115.3),(5.5,113.7),
    (5.7,116.4),(6.1,112.7),(6.4,114.8),(6.7,111.6),(7.0,113.7),(7.3,115.9),(7.7,114.3),(8.1,115.3),(8.5,117.0),(8.9,114.8),
    (9.1,123.4),(9.4,123.6),(9.7,124.5),(10.0,119.9),(10.1,131.2),(10.4,130.9),(10.7,118.6),(11.1,117.5),(11.5,119.7),(11.9,117.0),
    (12.3,119.1),(12.6,118.0),(13.0,120.7),(13.4,116.4),(13.8,119.7),(14.2,118.6),(14.5,119.1),(14.9,120.7),(15.3,116.8),(15.7,119.1),
    (16.0,120.5),(16.4,123.9),(16.8,131.2),(17.2,130.6),(17.4,128.2),(17.6,125.9),(17.8,127.2),(18.0,121.6),(18.2,126.7),(18.5,137.1),
    (18.8,118.6),(19.1,117.0),(19.5,121.1),(19.8,117.5),(20.2,119.7),(20.6,122.3),(21.0,117.5),(21.2,122.7),(21.5,118.6),(21.8,120.7),
    (22.1,117.5),(22.5,122.0),(22.9,127.7),(23.2,119.7),(23.6,122.3),(24.0,116.4),(24.4,115.6),(24.8,130.4),(25.0,146.1),(25.1,137.3),
    (25.3,156.6),(25.5,154.3),(25.7,131.4),(25.9,115.4),(26.3,126.1),(26.5,124.2),(26.8,116.4),(27.1,114.8),(27.4,116.4),(27.8,117.8),
    (28.0,187.7),(28.2,183.4),(28.4,123.9),(28.6,115.3),(28.9,114.3),(29.1,113.2),(29.4,115.2),(29.7,112.2),(30.0,113.7),(30.2,132.3),
    (30.4,127.7),(30.7,111.1),(31.0,117.5),(31.2,150.0),(31.4,116.4),(31.7,109.5),(32.1,117.0),(32.4,123.4),(32.7,129.8),(32.9,120.7),
    (33.2,119.7),(33.5,116.4),(33.7,113.2),(34.0,122.9),(34.2,109.8),(34.5,107.9),(34.8,112.2),(35.1,114.3),(35.4,111.6),(35.7,122.3),
    (36.1,112.7),(36.5,111.1),(36.9,114.3),(37.2,112.2),(37.5,120.5),(37.8,112.7),(38.2,110.5),(38.5,114.3),(38.9,122.3),(39.2,113.2),
    (39.5,110.0),(39.9,116.4),(40.3,111.1),(40.6,108.9),(40.9,113.2),(41.2,116.4),(41.5,107.9),(41.8,111.1),(42.2,113.2),(42.5,112.2),
    (42.9,118.6),(43.1,122.9),(43.3,127.2),(43.4,129.5),(43.6,121.8),(43.8,107.3),(44.1,116.4),(44.4,109.5),(44.8,111.6),(45.1,108.9),
    (45.4,110.0),(45.7,112.7),(46.1,111.1),(46.3,126.6),(46.5,125.6),(46.8,122.9),(47.0,113.2),(47.3,107.9),(47.5,106.3),(47.8,113.2),
    (48.1,108.7),(48.4,110.5),(48.8,117.5),(49.1,113.2),(49.4,114.3),(49.7,115.3),(50.0,127.7),(50.3,110.0),(50.6,112.2),(50.9,124.8),
    (51.2,121.6),(51.5,116.4),(51.8,110.5),(52.1,123.1),(52.2,129.0),(52.4,114.8),(52.7,108.9),(53.0,107.9),(53.3,116.4),(53.6,118.6),
    (53.9,111.6),(54.2,110.5),(54.5,110.0),(54.8,112.2),(55.1,111.1),(55.4,110.0),(55.7,115.3),(56.0,111.6),(56.3,113.2),(56.6,116.4),
    (56.9,119.7),(57.2,129.5),(57.5,123.7),(57.7,121.6),(57.9,126.6),(58.1,129.3),(58.4,123.9),(58.7,121.6),(58.9,132.0),(59.1,114.3),
    (59.4,109.5),(59.6,111.6),(59.8,116.4),(60.1,108.9),(60.4,119.7),(60.6,123.9),(60.9,128.4),(61.1,121.6),(61.3,113.7),(61.6,108.9),
    (61.8,111.1),(62.2,119.1),(62.4,116.4),(62.6,113.2),(62.8,118.0),(63.1,112.2),(63.4,115.2),(63.6,109.5),(63.9,108.9),(64.1,110.0),
    (64.3,108.9),(64.6,122.3),(64.9,119.1),(65.3,115.3),(65.6,118.6),(65.9,114.3),(66.2,110.0),(66.5,112.7),(66.8,109.8),(67.1,117.0),
    (67.4,113.7),(67.7,112.2),(68.0,113.2),(68.3,111.1),(68.6,112.4),(68.9,110.5),(69.2,111.6),(69.5,114.3),(69.8,110.0),(70.1,112.2),
    (70.4,113.7),(70.7,111.1),(71.0,113.2),(71.3,110.0),(71.7,113.2),(72.1,112.2),(72.4,114.3),(72.8,121.6),(73.2,111.6),(73.6,113.2),
    (74.0,111.1),(74.3,113.7),(74.7,112.2),(75.1,114.8),(75.5,113.2),(75.9,115.6),(76.2,114.3),(76.6,116.4),(77.0,115.2),(77.4,117.0),
    (77.7,115.3),(78.1,117.5),(78.5,116.4),(78.9,120.7),(79.3,118.6),(79.6,115.3),(80.0,117.0),(80.4,117.5),(80.8,119.7),(81.2,117.5),
    (81.5,121.3),(81.9,118.6),(82.3,118.0),(82.7,120.7),(83.0,115.9),(83.4,120.2),(83.8,129.6),(84.2,116.4),(84.6,120.7),(84.9,121.3),
    (85.3,118.6),(85.5,114.8),(85.8,118.0),
    (1.9,112.8),(4.5,114.0),(6.9,113.0),(12.0,118.2),(13.6,117.6),(15.5,118.0),(19.3,119.0),(20.9,118.4),(22.3,119.0),(23.8,121.0),
    (27.6,115.0),(29.9,112.4),(34.4,110.6),(36.7,112.0),(38.0,112.8),(40.1,111.8),(44.6,109.0),(46.6,110.2),(54.0,109.6),(55.9,110.6),
    (63.0,109.4),(64.0,109.0),(66.7,111.0),(69.0,112.0),(70.9,112.6),(72.6,112.0),(76.4,115.0),(79.8,116.6),(81.7,117.8),(83.2,119.4),
]

SC = [
    (0.0,51.0),(0.5,51.5),(1.0,50.5),(1.5,52.0),(2.0,50.0),(2.5,51.0),(3.0,49.5),(3.5,50.5),(4.0,48.5),(4.5,50.0),
    (5.0,51.0),(5.5,49.5),(6.0,50.5),(6.5,48.0),(7.0,50.0),(7.5,51.5),(8.0,49.5),(8.5,54.6),(9.0,51.0),(9.5,50.0),
    (10.0,49.5),(10.5,51.5),(11.0,46.6),(11.5,50.5),(12.0,51.0),(12.5,49.5),(13.0,51.0),(13.5,48.5),(14.0,50.0),(14.5,52.0),
    (15.0,44.3),(15.5,50.5),(16.0,51.5),(16.5,52.5),(17.0,53.5),(17.5,51.5),(18.0,55.9),(18.5,52.5),(19.0,53.0),(19.5,52.0),
    (20.0,51.5),(20.5,53.0),(21.0,51.0),(21.5,52.5),(22.0,50.5),(22.5,52.0),(23.0,51.0),(23.5,53.0),(24.0,50.0),(24.5,52.0),
    (25.0,49.0),(25.5,51.5),(26.0,45.0),(26.5,50.0),(27.0,51.5),(27.3,56.6),(27.6,54.3),(28.0,52.0),(28.4,55.9),(28.8,59.0),
    (29.0,57.4),(29.1,60.5),(29.4,61.3),(29.5,54.3),(29.9,52.8),(30.3,51.2),(30.7,49.7),(31.0,48.1),(31.4,46.6),(32.0,59.0),
    (32.3,93.2),(32.4,45.8),(32.9,70.2),(33.3,49.7),(33.5,44.8),(33.9,44.0),(34.3,48.9),(34.8,52.8),(35.2,52.0),(35.6,53.5),
    (36.0,52.0),(36.3,52.8),(36.9,48.1),(37.1,53.1),(37.5,53.5),(37.9,54.3),(38.2,53.5),(38.6,54.6),(39.0,54.3),(39.4,55.1),
    (39.7,56.6),(40.0,58.2),(40.3,46.6),(40.7,50.2),(41.0,54.3),(41.3,55.9),(41.6,54.3),(42.0,52.8),(42.4,55.1),(42.8,54.0),
    (43.1,55.9),(43.5,56.6),(43.9,54.9),(44.3,61.3),(44.4,76.2),(44.7,66.4),(45.0,59.0),(45.3,55.9),(45.6,59.7),(45.9,57.4),
    (46.3,59.0),(46.6,52.8),(46.9,50.5),(47.2,49.7),(47.5,51.2),(47.8,48.1),(48.1,49.7),(48.4,45.0),(48.8,47.4),(49.2,50.5),
    (49.6,52.8),(49.9,61.3),(50.2,52.0),(50.5,49.7),(50.8,53.5),(51.1,51.2),(51.4,55.1),(51.7,49.7),(52.0,52.8),(52.3,55.9),
    (52.6,48.9),(52.9,51.2),(53.2,48.1),(53.5,50.5),(53.8,48.9),(54.1,54.3),(54.4,51.2),(54.7,49.7),(55.0,48.1),(55.3,49.7),
    (55.6,53.5),(56.0,52.0),(56.4,55.9),(56.8,52.8),(57.2,59.0),(57.5,55.1),(57.9,53.5),(58.3,56.6),(58.7,55.1),(59.0,58.2),
    (59.4,55.9),(59.8,54.3),(60.2,57.4),(60.6,60.5),(60.9,58.2),(61.3,60.5),(61.7,56.6),(62.1,59.0),(62.5,60.5),(62.8,57.4),
    (63.2,59.7),(63.6,55.9),(63.8,62.8),(64.1,59.0),(64.4,69.0),(64.7,115.0),(65.1,59.0),(65.3,161.6),(65.4,138.7),(65.6,90.9),
    (65.7,99.5),(65.9,88.3),(66.0,111.0),(66.2,60.5),(66.5,59.0),(66.7,55.9),(67.0,76.4),(67.2,52.0),(67.5,59.0),(67.8,69.0),
    (68.1,79.5),(68.3,69.8),(68.5,62.0),
    (76.8,53.5),(77.2,52.0),(77.6,50.5),(78.0,52.8),(78.4,49.7),(78.7,54.3),(79.1,52.8),(79.5,53.5),(79.9,54.6),(80.2,53.5),
    (80.6,55.1),(81.0,54.0),(81.4,55.9),(81.8,54.6),(82.1,56.6),(82.5,54.3),(82.9,55.9),(83.3,53.5),(83.6,55.1),(84.0,53.1),
    (84.4,54.3),(84.8,53.5),(85.2,54.6),(85.5,55.5),
    (0.8,51.8),(2.2,51.4),(3.8,50.8),(5.8,50.2),(7.8,50.6),(9.8,51.4),(11.8,49.8),(13.8,50.6),(15.8,52.2),(17.8,52.8),
    (19.8,52.6),(21.8,51.6),(23.8,51.8),(25.8,50.6),(26.8,52.4),(35.4,53.0),(37.7,52.6),(39.2,53.8),(41.8,53.6),(43.3,54.6),
    (53.0,50.0),(54.9,50.6),(56.6,54.0),(58.0,55.6),(59.6,56.4),(61.0,57.0),(62.3,58.0),(63.4,57.4),(79.7,53.2),(81.6,54.8),
]

GREEN = "#44b52c"
FRAME = "#555555"
LABEL = "#3a3a3a"
PANEL_W, PANEL_H = 393, 265
MAJOR_LEN, MINOR_LEN = 7, 3.5

X_DOMAIN = [-1700, 87750]
X_MAJOR = [0, 20000, 40000, 60000, 80000]
X_MINOR = [10000, 30000, 50000, 70000]

# (title, data, y domain, labelled ticks, minor ticks)
PANELS = [
    ("Tsys BR-VLBA", BR, [40.5, 146.5], [50, 100], [60, 70, 80, 90, 110, 120, 130, 140]),
    ("Tsys FD-VLBA", FD, [76.1, 107.6], [80, 90, 100], [78, 82, 84, 86, 88, 92, 94, 96, 98, 102, 104, 106]),
    ("Tsys KP-VLBA", KP, [66.25, 88.9], [70, 75, 80, 85],
     [67, 68, 69, 71, 72, 73, 74, 76, 77, 78, 79, 81, 82, 83, 84, 86, 87, 88]),
    ("Tsys LA-VLBA", LA, [110.24, 119.92], [112, 114, 116, 118],
     [110.5, 111, 111.5, 112.5, 113, 113.5, 114.5, 115, 115.5, 116.5, 117, 117.5, 118.5, 119, 119.5]),
    ("Tsys MK-VLBA", MK, [70.14, 88.47], [75, 80, 85],
     [71, 72, 73, 74, 76, 77, 78, 79, 81, 82, 83, 84, 86, 87, 88]),
    ("Tsys NL-VLBA", NL, [28.97, 108.6], [40, 60, 80, 100], [30, 50, 70, 90]),
    ("Tsys OV-VLBA", OV, [46.05, 119.7], [60, 80, 100], [50, 70, 90, 110]),
    ("Tsys PIETOWN", PIE, [104.5, 189.3], [120, 140, 160, 180], [110, 130, 150, 170]),
    ("Tsys SC-VLBA", SC, [41.7, 163.9], [50, 100, 150], [60, 70, 80, 90, 110, 120, 130, 140, 160]),
]


def panel(title, pts, ydom, ymajor, yminor, xtitle=None):
    df = pd.DataFrame(pts, columns=["ks", "v"])
    df["t"] = df["ks"] * 1000.0

    xs = alt.Scale(domain=X_DOMAIN, nice=False, zero=False)
    ys = alt.Scale(domain=ydom, nice=False, zero=False)
    xax = alt.Axis(
        values=X_MAJOR, ticks=False, domain=False, grid=False,
        labelExpr="datum.value == 0 ? '0' : format(datum.value / 10000, 'd') + '×10⁴'",
        labelFont="DejaVu Sans", labelFontSize=16, labelColor=LABEL, labelPadding=5,
        labelFlush=False, labelOverlap=False,
        title=xtitle, titleFont="DejaVu Sans", titleFontSize=15, titleFontWeight="normal",
        titleColor=LABEL, titleAnchor="end", titleAlign="right", titlePadding=1,
    )
    yax = alt.Axis(
        values=ymajor, ticks=False, domain=False, grid=False, title=None,
        labelFont="DejaVu Sans", labelFontSize=15, labelColor=LABEL, labelPadding=11,
        labelOverlap=False,
    )
    X = alt.X("t:Q", scale=xs, axis=xax)
    Y = alt.Y("v:Q", scale=ys, axis=yax)

    dots = alt.Chart(df).mark_circle(size=30, color=GREEN, opacity=1, clip=True).encode(x=X, y=Y)

    layers = [dots]
    rule = dict(color=FRAME, strokeWidth=1.3)
    for vals, ln in ((ymajor, MAJOR_LEN), (yminor, MINOR_LEN)):
        tk = pd.DataFrame({"v": vals})
        base = alt.Chart(tk).mark_rule(**rule)
        layers.append(base.encode(y=Y, x=alt.value(0), x2=alt.value(ln)))
        layers.append(base.encode(y=Y, x=alt.value(PANEL_W - ln), x2=alt.value(PANEL_W)))
    for vals, ln in ((X_MAJOR, MAJOR_LEN), (X_MINOR, MINOR_LEN)):
        tk = pd.DataFrame({"t": vals})
        base = alt.Chart(tk).mark_rule(**rule)
        layers.append(base.encode(x=X, y=alt.value(PANEL_H - ln), y2=alt.value(PANEL_H)))
        layers.append(base.encode(x=X, y=alt.value(0), y2=alt.value(ln)))

    return alt.layer(*layers).properties(
        width=PANEL_W, height=PANEL_H,
        view=alt.ViewBackground(fill="#efefef", stroke=FRAME, strokeWidth=1.8),
        title=alt.TitleParams(
            text=title, font="Liberation Sans", fontSize=22, fontWeight="bold",
            color="#000000", offset=-12, baseline="alphabetic",
        ),
    )


charts = []
for i, (title, pts, ydom, ymaj, ymin) in enumerate(PANELS):
    xt = "Time in seconds" if i == len(PANELS) - 1 else None
    charts.append(panel(title, pts, ydom, ymaj, ymin, xt))

chart = alt.concat(
    *charts, columns=3, spacing={"row": 106, "column": 98.5}, bounds="flush"
).properties(
    padding={"left": 10, "top": 8, "right": 0, "bottom": 0}
).configure_view(
    fill="#efefef", stroke=FRAME, strokeWidth=1.8
).configure(background="white")

chart.save("out.html", embed_options={"renderer": "svg", "actions": False})
